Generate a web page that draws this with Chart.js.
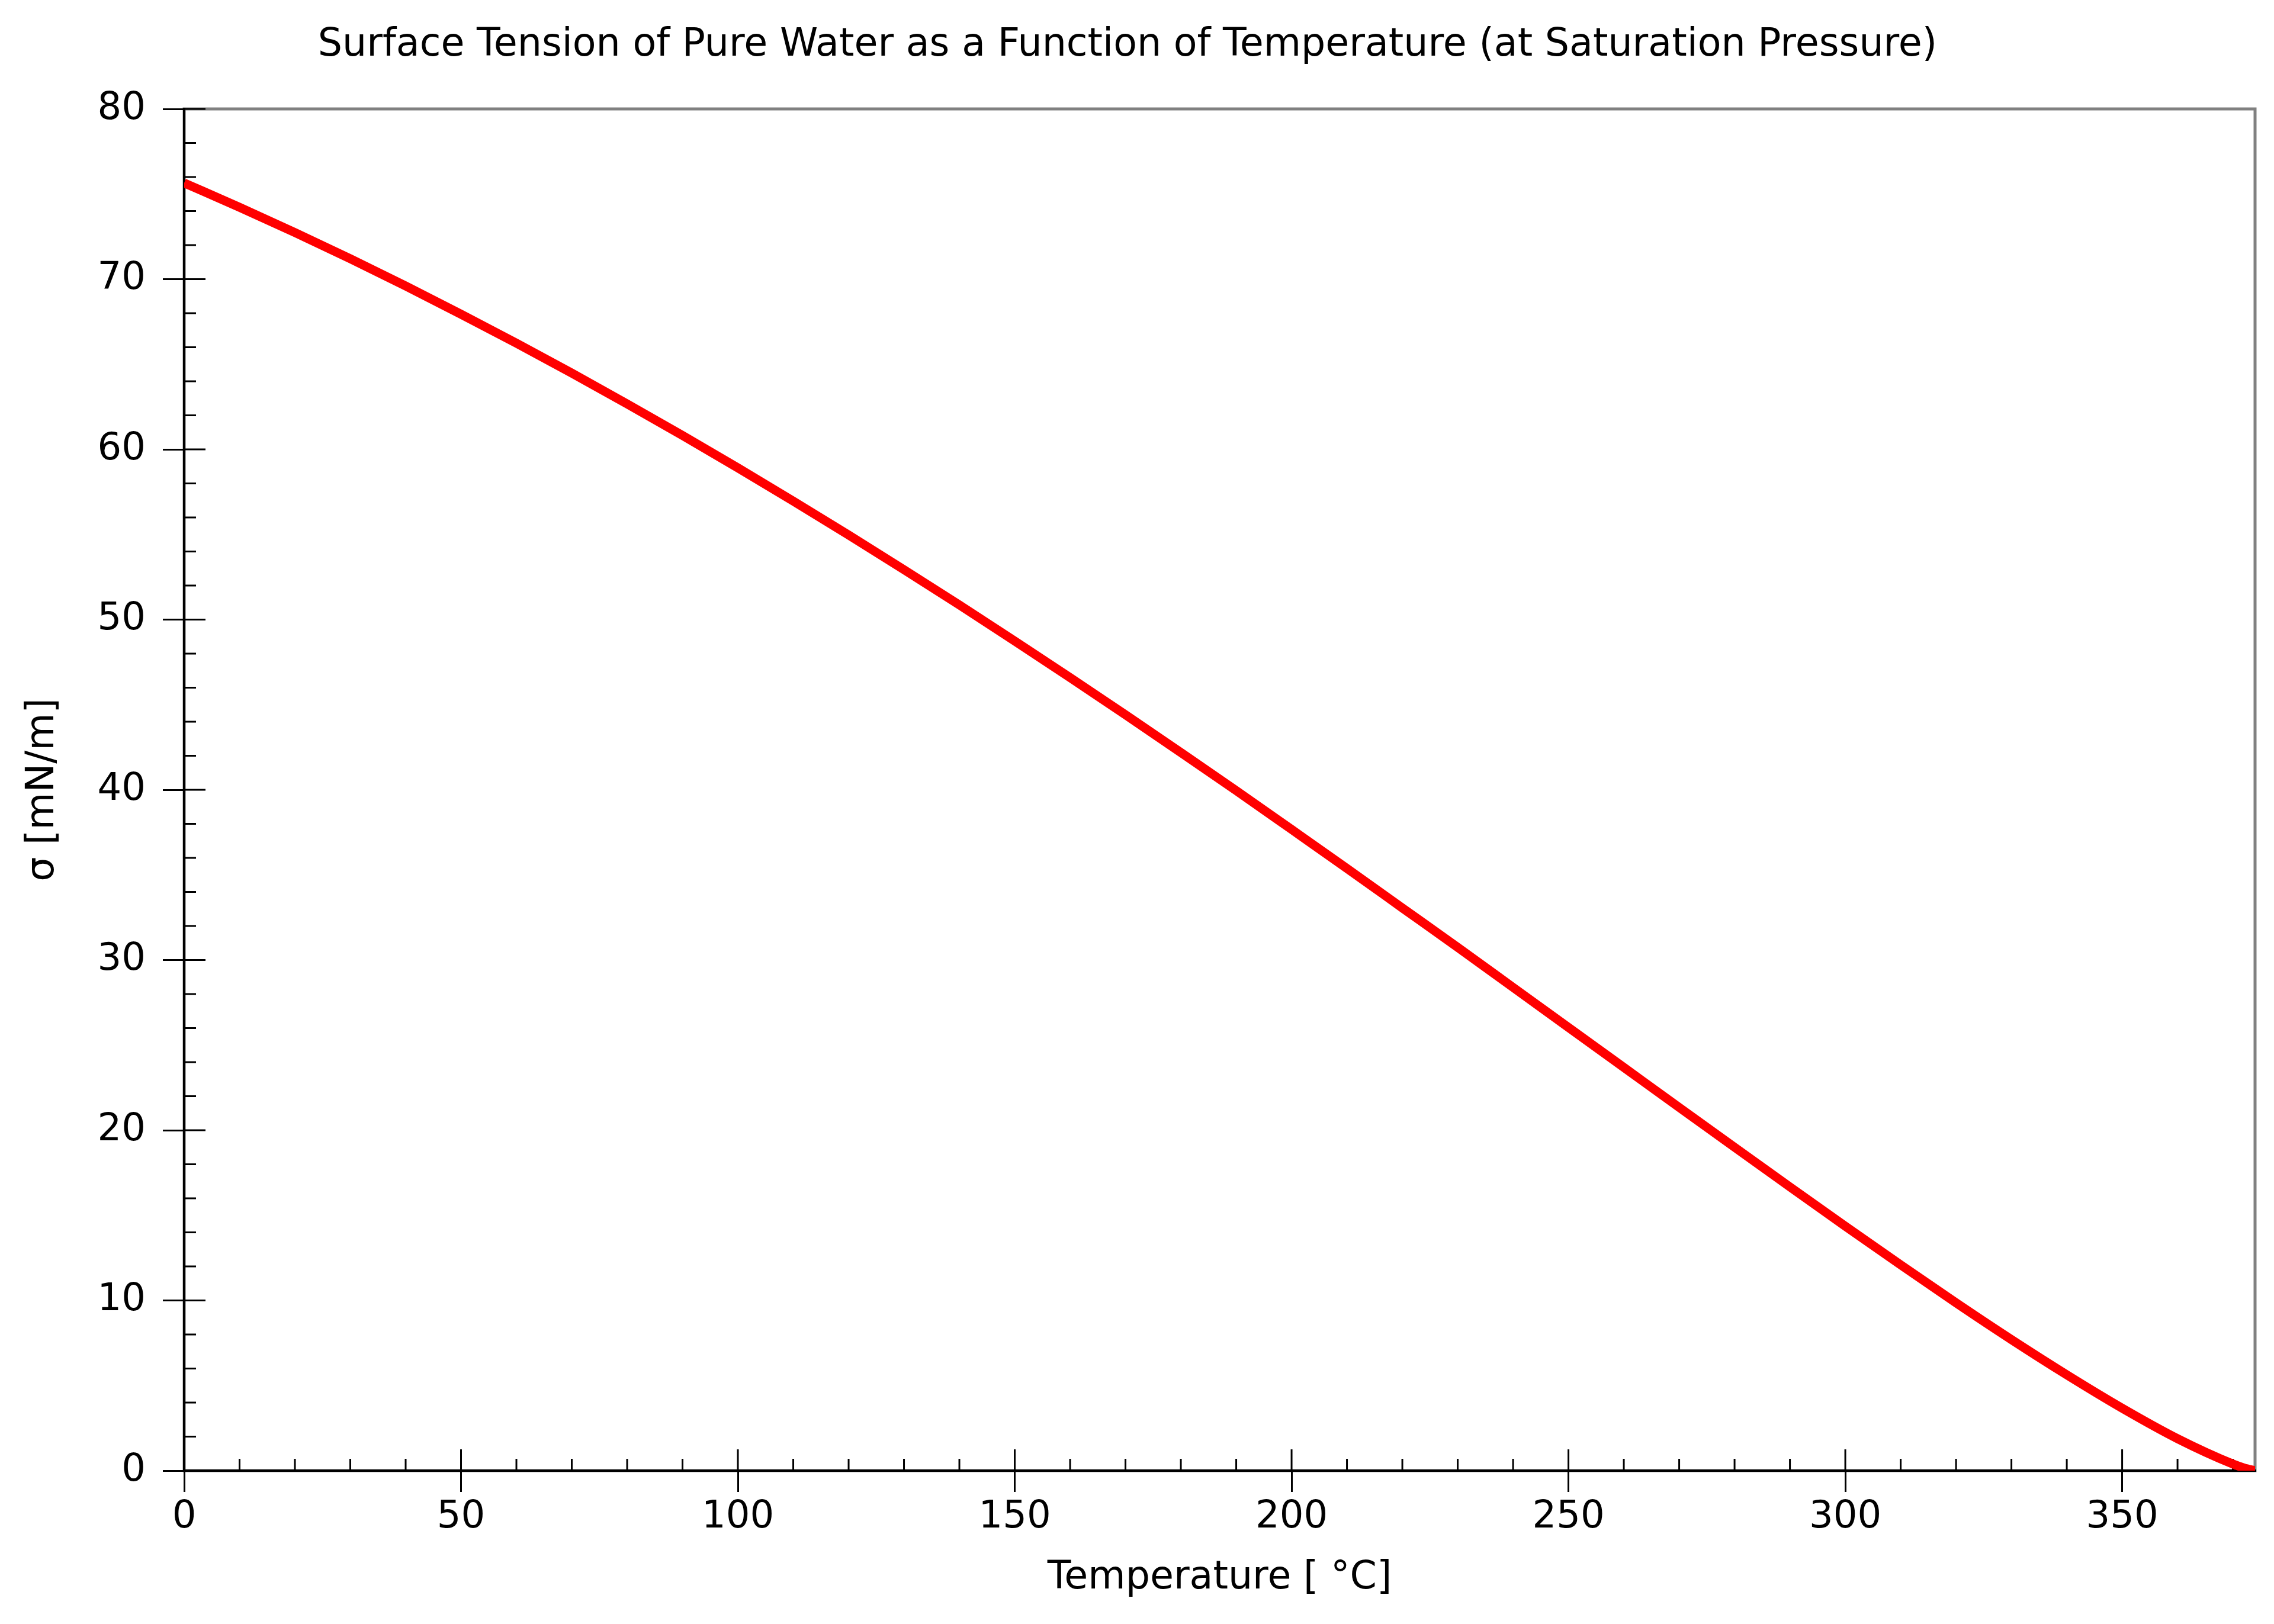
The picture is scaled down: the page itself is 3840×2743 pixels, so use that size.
<!DOCTYPE html>
<html>
<head>
<meta charset="utf-8">
<title>Surface Tension of Pure Water</title>
<script src="https://cdn.jsdelivr.net/npm/chart.js@4.4.1/dist/chart.umd.min.js"></script>
<style>
  html, body { margin: 0; padding: 0; background: #fff; }
  canvas { display: block; }
</style>
</head>
<body>
<canvas id="tensionChart" width="3840" height="2743"></canvas>
<script>
// temperature [°C] and surface tension [mN/m]
const temperatures = [0, 10, 20, 30, 40, 50, 60, 70, 80, 90, 100, 110, 120, 130, 140, 150, 160, 170, 180, 190,
  200, 210, 220, 230, 240, 250, 260, 270, 280, 290, 300, 310, 320, 330, 340, 350, 360, 370, 372, 374];
const tensions = [75.65, 74.22, 72.74, 71.2, 69.6, 67.94, 66.24, 64.48, 62.67, 60.82, 58.91, 56.96, 54.97, 52.93,
  50.86, 48.74, 46.59, 44.41, 42.19, 39.95, 37.67, 35.38, 33.06, 30.74, 28.39, 26.04, 23.69, 21.34, 19.0, 16.67,
  14.36, 12.09, 9.86, 7.7, 5.63, 3.67, 1.88, 0.39, 0.16, 0];

// tick labels
const xTickValues = [0, 50, 100, 150, 200, 250, 300, 350];
const yTickValues = [0, 10, 20, 30, 40, 50, 60, 70, 80];
const xMinorStep = 10;
const yMinorStep = 2;

const FONT = "DejaVu Sans";

// grey frame on top/right, inner major and minor ticks
const frameAndTicks = {
  id: "frameAndTicks",
  beforeDraw(chart) {
    const { ctx, chartArea: a } = chart;
    ctx.save();
    ctx.strokeStyle = "#808080";
    ctx.lineWidth = 5;
    ctx.strokeRect(a.left, a.top, a.right - a.left, a.bottom - a.top);
    ctx.restore();
  },
  beforeDatasetsDraw(chart) {
    const { ctx, chartArea: a, scales } = chart;
    ctx.save();
    ctx.strokeStyle = "#000";
    ctx.lineWidth = 3;
    ctx.beginPath();
    for (let v = 0; v <= scales.x.max; v += xMinorStep) {
      const px = scales.x.getPixelForValue(v);
      const len = xTickValues.includes(v) ? 36 : 20;
      ctx.moveTo(px, a.bottom);
      ctx.lineTo(px, a.bottom - len);
    }
    for (let v = 0; v <= scales.y.max; v += yMinorStep) {
      const py = scales.y.getPixelForValue(v);
      const len = yTickValues.includes(v) ? 36 : 20;
      ctx.moveTo(a.left, py);
      ctx.lineTo(a.left + len, py);
    }
    ctx.stroke();
    ctx.restore();
  },
};

const ctx = document.getElementById("tensionChart").getContext("2d");

new Chart(ctx, {
  type: "line",
  data: {
    datasets: [
      {
        label: "σ",
        data: temperatures.map((t, i) => ({ x: t, y: tensions[i] })),
        borderColor: "#ff0000",
        borderWidth: 15,
        pointRadius: 0,
        fill: false,
        cubicInterpolationMode: "monotone",
        clip: 0,
      },
    ],
  },
  options: {
    responsive: false,
    devicePixelRatio: 1,
    animation: false,
    layout: {
      padding: { top: 0, right: 32, bottom: 0, left: 0 },
    },
    plugins: {
      legend: { display: false },
      tooltip: { enabled: false },
      title: {
        display: true,
        text: "Surface Tension of Pure Water as a Function of Temperature (at Saturation Pressure)",
        color: "#000",
        font: { family: FONT, size: 65, weight: "normal", lineHeight: 1.2 },
        padding: { top: 38, bottom: 68 },
      },
    },
    scales: {
      x: {
        type: "linear",
        min: 0,
        max: 374,
        afterBuildTicks: (scale) => {
          scale.ticks = xTickValues.map((value) => ({ value }));
        },
        afterFit: (scale) => {
          scale.height = 259;
        },
        ticks: {
          autoSkip: false,
          maxRotation: 0,
          color: "#000",
          padding: 11,
          font: { family: FONT, size: 64, lineHeight: 1 },
        },
        grid: {
          drawOnChartArea: false,
          drawTicks: true,
          tickLength: 36,
          color: "#000",
          lineWidth: 3,
        },
        border: { display: true, color: "#000", width: 4 },
        title: {
          display: true,
          text: "Temperature [ °C]",
          color: "#000",
          font: { family: FONT, size: 65, lineHeight: 1.2 },
          padding: { top: 0, bottom: 38 },
        },
      },
      y: {
        type: "linear",
        min: 0,
        max: 80,
        afterBuildTicks: (scale) => {
          scale.ticks = yTickValues.map((value) => ({ value }));
        },
        afterFit: (scale) => {
          scale.width = 311;
        },
        ticks: {
          autoSkip: false,
          color: "#000",
          padding: 29,
          font: { family: FONT, size: 64 },
        },
        grid: {
          drawOnChartArea: false,
          drawTicks: true,
          tickLength: 36,
          color: "#000",
          lineWidth: 3,
        },
        border: { display: true, color: "#000", width: 4 },
        title: {
          display: true,
          text: "σ [mN/m]",
          color: "#000",
          font: { family: FONT, size: 65, lineHeight: 1.2 },
          padding: { top: 34, bottom: 0 },
        },
      },
    },
  },
  plugins: [frameAndTicks],
});
</script>
</body>
</html>
